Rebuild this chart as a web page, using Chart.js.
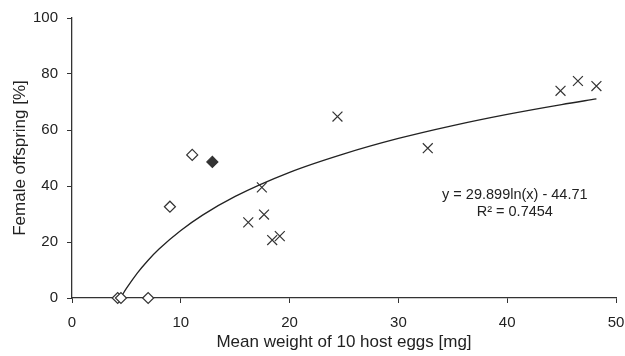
<!DOCTYPE html>
<html><head><meta charset="utf-8">
<script src="https://cdn.jsdelivr.net/npm/chart.js@4"></script>
<style>html,body{margin:0;padding:0;background:#fff}#wrap{width:625px;height:356px}</style>
</head><body><div id="wrap"><canvas id="c" width="625" height="356"></canvas></div>
<script>
const openX = [4.2, 4.5, 7.0, 9.0, 11.05];
const openY = [0, 0, 0, 32.6, 51.1];
const filledX = [12.9];
const filledY = [48.6];
const crossX = [16.2, 17.45, 17.65, 18.4, 19.1, 24.4, 32.7, 44.9, 46.5, 48.2];
const crossY = [27.0, 39.5, 29.8, 20.7, 22.1, 64.8, 53.5, 74.0, 77.5, 75.7];
const trendX = [4.5, 5, 6, 7, 8, 10, 12, 15, 20, 25, 30, 35, 40, 45, 48.2];
const trendY = [0.3, 3.4, 8.9, 13.5, 17.5, 24.1, 29.6, 36.3, 44.9, 51.5, 57.0, 61.6, 65.6, 69.1, 71.1];
const xTicks = [0, 10, 20, 30, 40, 50];
const yTicks = [0, 20, 40, 60, 80, 100];
const eqText = ["y = 29.899ln(x) - 44.71", "R\u00b2 = 0.7454"];

const pts = (xs, ys) => xs.map((x, i) => ({x, y: ys[i]}));
const INK = '#333';
const FONT = 'Liberation Sans, Arial, sans-serif';

const eqPlugin = {
  id: 'eq',
  afterDatasetsDraw(chart) {
    const {ctx, scales} = chart;
    ctx.save();
    ctx.fillStyle = '#222';
    ctx.font = '14.5px ' + FONT;
    ctx.textAlign = 'center';
    ctx.textBaseline = 'middle';
    const cx = scales.x.getPixelForValue(40.7);
    ctx.fillText(eqText[0], cx, scales.y.getPixelForValue(36.8));
    ctx.fillText(eqText[1], cx, scales.y.getPixelForValue(30.7));
    ctx.restore();
  }
};

new Chart(document.getElementById('c'), {
  type: 'scatter',
  data: {
    datasets: [
      {
        type: 'line', data: pts(trendX, trendY), borderColor: '#222', borderWidth: 1.3,
        pointRadius: 0, fill: false, cubicInterpolationMode: 'monotone', order: 3, clip: false
      },
      {
        data: pts(crossX, crossY), pointStyle: 'crossRot', pointRadius: 7,
        borderColor: INK, borderWidth: 1.2, backgroundColor: INK, clip: false
      },
      {
        data: pts(openX, openY), pointStyle: 'rectRot', pointRadius: 5.5,
        borderColor: INK, borderWidth: 1.2, backgroundColor: '#fff', clip: false
      },
      {
        data: pts(filledX, filledY), pointStyle: 'rectRot', pointRadius: 5.5,
        borderColor: INK, borderWidth: 1.2, backgroundColor: '#333', clip: false
      }
    ]
  },
  options: {
    responsive: false, animation: false, devicePixelRatio: 1,
    layout: {padding: {top: 18, right: 9, left: 0, bottom: 0}},
    plugins: {legend: {display: false}, tooltip: {enabled: false}},
    scales: {
      x: {
        type: 'linear', min: 0, max: 50,
        afterBuildTicks: s => { s.ticks = xTicks.map(v => ({value: v})); },
        afterFit: s => { s.height = 58; s.paddingLeft = 0; s.paddingRight = 0; },
        grid: {display: true, drawOnChartArea: false, drawTicks: true, tickLength: 5, color: INK, lineWidth: 1},
        border: {display: true, color: INK, width: 1.3},
        ticks: {color: '#222', font: {family: FONT, size: 15}, padding: 11, maxRotation: 0},
        title: {display: true, text: 'Mean weight of 10 host eggs [mg]', color: '#222',
                font: {family: FONT, size: 17}, padding: 3}
      },
      y: {
        type: 'linear', min: 0, max: 100,
        afterBuildTicks: s => { s.ticks = yTicks.map(v => ({value: v})); },
        afterFit: s => { s.width = 72; s.paddingTop = 0; s.paddingBottom = 0; },
        grid: {display: true, drawOnChartArea: false, drawTicks: true, tickLength: 5, color: INK, lineWidth: 1},
        border: {display: true, color: INK, width: 1.3},
        ticks: {color: '#222', font: {family: FONT, size: 15}, padding: 9},
        title: {display: true, text: 'Female offspring [%]', color: '#222',
                font: {family: FONT, size: 17}, padding: 10}
      }
    }
  },
  plugins: [eqPlugin]
});
</script></body></html>
